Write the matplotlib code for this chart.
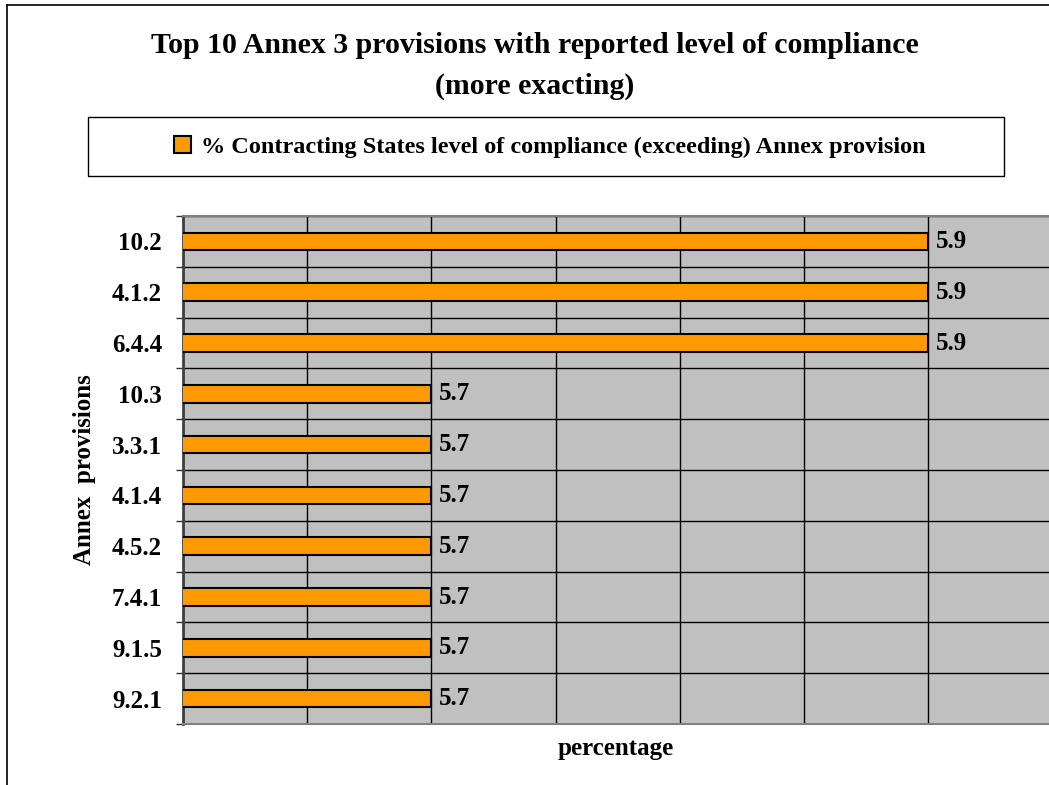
import numpy as np
import matplotlib
matplotlib.use("Agg")
import matplotlib.pyplot as plt
from matplotlib import patches
from matplotlib.lines import Line2D

# ===============================================================================

provisions = ["10.2", "4.1.2", "6.4.4", "10.3", "3.3.1",
              "4.1.4", "4.5.2", "7.4.1", "9.1.5", "9.2.1"]
values = [5.9, 5.9, 5.9, 5.7, 5.7, 5.7, 5.7, 5.7, 5.7, 5.7]
series_name = "% Contracting States level of compliance (exceeding) Annex provision"
title = "Top 10 Annex 3 provisions with reported level of compliance\n(more exacting)"

# ===============================================================================

plt.rcParams['font.family'] = ['Liberation Serif', 'DejaVu Serif']
plt.rcParams['font.weight'] = 'bold'

W, H = 1049, 785
fig = plt.figure(figsize=(W/100, H/100), dpi=100)

def fx(px):
    return px / W

def fy(py):
    return 1 - py / H

# plot area: left 183, top 216, bottom 724; runs past the right edge
ax = fig.add_axes([fx(183), fy(724), 993.6/W, (724-216)/H])
ax.set_facecolor('#C0C0C0')

y = np.arange(len(provisions))
ax.barh(y, values, height=0.35, left=0, color='#FF9900', edgecolor='black',
        linewidth=1.5, label=series_name, zorder=3)

ax.set_xlim(5.6, 6.0)
ax.set_ylim(len(provisions)-0.5, -0.5)

# grid
ax.set_xticks(np.arange(5.6, 6.0001, 0.05))
ax.set_xticklabels([])
ax.tick_params(axis='x', length=0)
ax.grid(axis='x', color='black', lw=1, zorder=1)

ax.set_yticks(y)
ax.set_yticklabels(provisions, fontsize=18, fontweight='bold')
ax.set_yticks(np.arange(-0.5, len(provisions)), minor=True)
ax.tick_params(axis='y', which='major', length=0, pad=15)
ax.tick_params(axis='y', which='minor', length=5, width=1, color='#333333')
ax.grid(axis='y', which='minor', color='black', lw=1, zorder=1)
ax.set_axisbelow(True)

for s in ['top', 'bottom', 'right']:
    ax.spines[s].set_color('#808080')
    ax.spines[s].set_linewidth(1.5)
ax.spines['left'].set_color('#404040')
ax.spines['left'].set_linewidth(2)

for yi, v in zip(y, values):
    ax.text(v + 0.003, yi, "%.1f" % v, va='center', ha='left',
            fontsize=18, fontweight='bold', zorder=4)

# ===============================================================================

fig.text(fx(535), fy(66), title, ha='center', va='center', fontsize=21.5,
         fontweight='bold', linespacing=1.63)

fig.text(fx(85), fy(470), "Annex  provisions", rotation=90, ha='center',
         va='center', fontsize=18, fontweight='bold')
fig.text(fx(616), fy(748), "percentage", ha='center', va='center',
         fontsize=18, fontweight='bold')

# legend box
fig.patches.append(patches.Rectangle((fx(88), fy(176)), (1004-88)/W, (176-117)/H,
                                     transform=fig.transFigure, fill=False,
                                     edgecolor='black', lw=1))
fig.legend(loc='center', bbox_to_anchor=(fx(550), fy(147)), frameon=False,
           prop={'size': 17.5, 'weight': 'bold'}, handlelength=0.7,
           handleheight=0.7, handletextpad=0.4)

# chart border
fig.add_artist(Line2D([fx(7), fx(7)], [fy(5), 0], transform=fig.transFigure,
                      color='black', lw=1.2))
fig.add_artist(Line2D([fx(7), 1], [fy(5), fy(5)], transform=fig.transFigure,
                      color='black', lw=1.2))

plt.savefig("out.png", dpi=100)
plt.close()
